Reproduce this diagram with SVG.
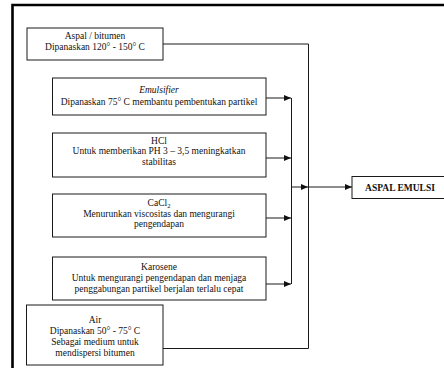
<svg xmlns="http://www.w3.org/2000/svg" width="444" height="368" viewBox="0 0 444 368">
<style>
.box{fill:#fff;stroke:#1a1a1a;stroke-width:1}
.t{font-family:"Liberation Serif","Times New Roman",serif;font-size:9.5px;fill:#111;text-anchor:middle}
.i{font-style:italic}
.b{font-weight:bold}
.ln{fill:none;stroke:#1a1a1a;stroke-width:1}
</style>
<defs>
<marker id="ah" markerWidth="7" markerHeight="6" refX="7" refY="3" orient="auto" markerUnits="userSpaceOnUse">
<path d="M0,0 L7,3 L0,6 Z" fill="#111"/>
</marker>
</defs>
<rect x="0" y="0" width="444" height="368" fill="#fff"/>
<path d="M12.5,368 V5 H444" fill="none" stroke="#000" stroke-width="2.6"/>
<g id="connectors">
<path class="ln" d="M163,44 H308.5 V348.5 H163"/>
<line class="ln" x1="266" y1="98" x2="291" y2="98" marker-end="url(#ah)"/>
<line class="ln" x1="266" y1="158" x2="291" y2="158" marker-end="url(#ah)"/>
<line class="ln" x1="266" y1="218" x2="291" y2="218" marker-end="url(#ah)"/>
<line class="ln" x1="266" y1="284" x2="291" y2="284" marker-end="url(#ah)"/>
<line class="ln" x1="291.5" y1="98" x2="291.5" y2="284"/>
<line class="ln" x1="291.5" y1="187" x2="308" y2="187" marker-end="url(#ah)"/>
<line class="ln" x1="308.5" y1="187" x2="352" y2="187" marker-end="url(#ah)"/>
</g>
<g id="aspal">
<rect class="box" x="27" y="28" width="136" height="32"/>
<text class="t" x="95" y="39">Aspal / bitumen</text>
<text class="t" x="95" y="50">Dipanaskan 120° - 150° C</text>
</g>
<g id="emulsifier">
<rect class="box" x="52.5" y="78" width="213.5" height="37"/>
<text class="t i" x="159" y="93">Emulsifier</text>
<text class="t" x="159" y="105">Dipanaskan 75° C membantu pembentukan partikel</text>
</g>
<g id="hcl">
<rect class="box" x="52.5" y="133" width="213.5" height="44"/>
<text class="t" x="159" y="143.5">HCl</text>
<text class="t" x="159" y="154">Untuk memberikan PH 3 – 3,5 meningkatkan</text>
<text class="t" x="159" y="164.5">stabilitas</text>
</g>
<g id="cacl2">
<rect class="box" x="52.5" y="194" width="213.5" height="43"/>
<text class="t" x="159" y="205.5">CaCl<tspan font-size="6.5" dy="2">2</tspan></text>
<text class="t" x="159" y="216.5">Menurunkan viscositas dan mengurangi</text>
<text class="t" x="159" y="227">pengendapan</text>
</g>
<g id="karosene">
<rect class="box" x="52.5" y="257" width="213.5" height="43"/>
<text class="t" x="159" y="270">Karosene</text>
<text class="t" x="159" y="281">Untuk mengurangi pengendapan dan menjaga</text>
<text class="t" x="159" y="291.5">penggabungan partikel berjalan terlalu cepat</text>
</g>
<g id="air">
<rect class="box" x="26.5" y="305" width="136.5" height="60"/>
<text class="t" x="95" y="323">Air</text>
<text class="t" x="95" y="334">Dipanaskan 50° - 75° C</text>
<text class="t" x="95" y="344.5">Sebagai medium untuk</text>
<text class="t" x="95" y="355.5">mendispersi bitumen</text>
</g>
<g id="aspal-emulsi">
<rect class="box" x="352" y="176.5" width="100" height="22"/>
<text class="t b" x="400" y="191">ASPAL EMULSI</text>
</g>
</svg>
